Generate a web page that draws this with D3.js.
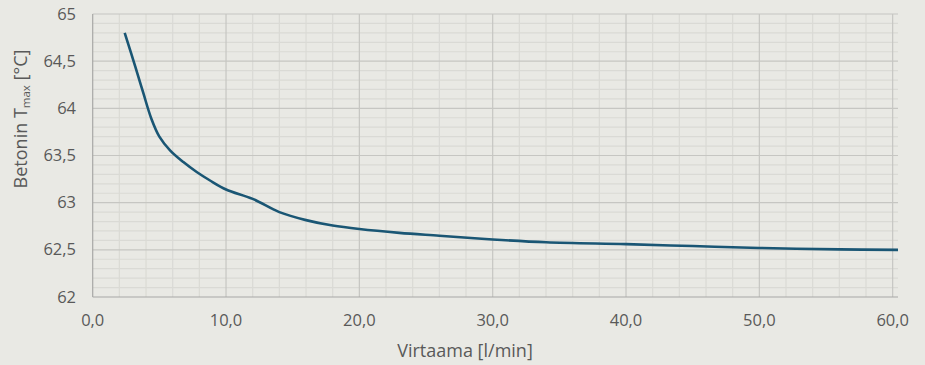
<!DOCTYPE html>
<html>
<head>
<meta charset="utf-8">
<script src="https://cdn.jsdelivr.net/npm/d3@7"></script>
<style>
  body { margin: 0; background: #e9e9e4; }
  svg { display: block; font-family: "Open Sans", Roboto, "Noto Sans", sans-serif; }
</style>
</head>
<body>
<div id="chart"></div>
<script>
// virtaama [l/min] ja betonin maksimilämpötila [°C]
const flow = [2.4, 3.2, 3.8, 4.4, 5.0, 5.8, 6.8, 7.8, 8.8, 10, 12, 14, 16, 18, 20, 23, 26, 30, 34, 40, 45, 50, 56, 60.4];
const tmax = [64.80, 64.44, 64.16, 63.89, 63.70, 63.555, 63.43, 63.325, 63.235, 63.14, 63.04, 62.90, 62.815, 62.757, 62.72, 62.68, 62.65, 62.61, 62.58, 62.56, 62.54, 62.52, 62.505, 62.50];
const xTicks = [0, 10, 20, 30, 40, 50, 60];
const yTicks = [62, 62.5, 63, 63.5, 64, 64.5, 65];

let width = 925, height = 365;
let margin = { left: 92.7, right: 27, top: 14, bottom: 68 };

let svg = d3.select('#chart').append('svg')
    .attr('width', width)
    .attr('height', height);

svg.append('rect').attr('width', width).attr('height', height).attr('fill', '#e9e9e4');

let x = d3.scaleLinear().domain([0, 60.4]).range([margin.left, width - margin.right]);
let y = d3.scaleLinear().domain([62, 65]).range([height - margin.bottom, margin.top]);

let fmt = v => d3.format('.1f')(v).replace('.', ',');
let fmtY = v => String(v).replace('.', ',');

// apuviivat
let g = svg.append('g');
g.selectAll('line.minor-x')
    .data(d3.range(2, 60.1, 2).filter(v => v % 10 !== 0))
    .enter().append('line')
    .attr('x1', d => x(d)).attr('x2', d => x(d))
    .attr('y1', y(62)).attr('y2', y(65))
    .attr('stroke', '#dadad5').attr('stroke-width', 1.2);
g.selectAll('line.minor-y')
    .data(d3.range(1, 30).map(i => 62 + i * 0.1).filter((v, i) => (i + 1) % 5 !== 0))
    .enter().append('line')
    .attr('x1', x(0)).attr('x2', x(60.4))
    .attr('y1', d => y(d)).attr('y2', d => y(d))
    .attr('stroke', '#dadad5').attr('stroke-width', 1.2);
g.selectAll('line.major-x')
    .data(xTicks.slice(1))
    .enter().append('line')
    .attr('x1', d => x(d)).attr('x2', d => x(d))
    .attr('y1', y(62)).attr('y2', y(65))
    .attr('stroke', '#c6c6c2').attr('stroke-width', 1.2);
g.selectAll('line.major-y')
    .data(yTicks.slice(1))
    .enter().append('line')
    .attr('x1', x(0)).attr('x2', x(60.4))
    .attr('y1', d => y(d)).attr('y2', d => y(d))
    .attr('stroke', '#c6c6c2').attr('stroke-width', 1.2);

// akselit
svg.append('line')
    .attr('x1', x(0)).attr('x2', x(0)).attr('y1', y(62)).attr('y2', y(65))
    .attr('stroke', '#a8a8a6').attr('stroke-width', 1.2);
svg.append('line')
    .attr('x1', x(0)).attr('x2', x(60.4)).attr('y1', y(62)).attr('y2', y(62))
    .attr('stroke', '#a8a8a6').attr('stroke-width', 1.2);

svg.selectAll('text.ytick')
    .data(yTicks)
    .enter().append('text')
    .attr('x', 76).attr('y', d => y(d) + 5.5)
    .attr('text-anchor', 'end')
    .attr('font-size', 16.5).attr('fill', '#595959')
    .text(fmtY);

svg.selectAll('text.xtick')
    .data(xTicks)
    .enter().append('text')
    .attr('x', d => x(d)).attr('y', 325.5)
    .attr('text-anchor', 'middle')
    .attr('font-size', 16.5).attr('fill', '#595959')
    .text(fmt);

svg.append('text')
    .attr('x', 465).attr('y', 357)
    .attr('text-anchor', 'middle')
    .attr('font-size', 18).attr('fill', '#595959')
    .text('Virtaama [l/min]');

let yt = svg.append('text')
    .attr('transform', 'translate(27,119) rotate(-90)')
    .attr('text-anchor', 'middle')
    .attr('font-size', 18).attr('fill', '#595959');
yt.append('tspan').text('Betonin T');
yt.append('tspan').attr('font-size', 11.5).attr('dy', 3).text('max');
yt.append('tspan').attr('dy', -3).text(' [°C]');

// käyrä
let line = d3.line()
    .x((d, i) => x(flow[i]))
    .y(d => y(d))
    .curve(d3.curveCatmullRom.alpha(0.5));

svg.append('path')
    .datum(tmax)
    .attr('d', line)
    .attr('fill', 'none')
    .attr('stroke', '#1a5674')
    .attr('stroke-width', 2.6);
</script>
</body>
</html>
